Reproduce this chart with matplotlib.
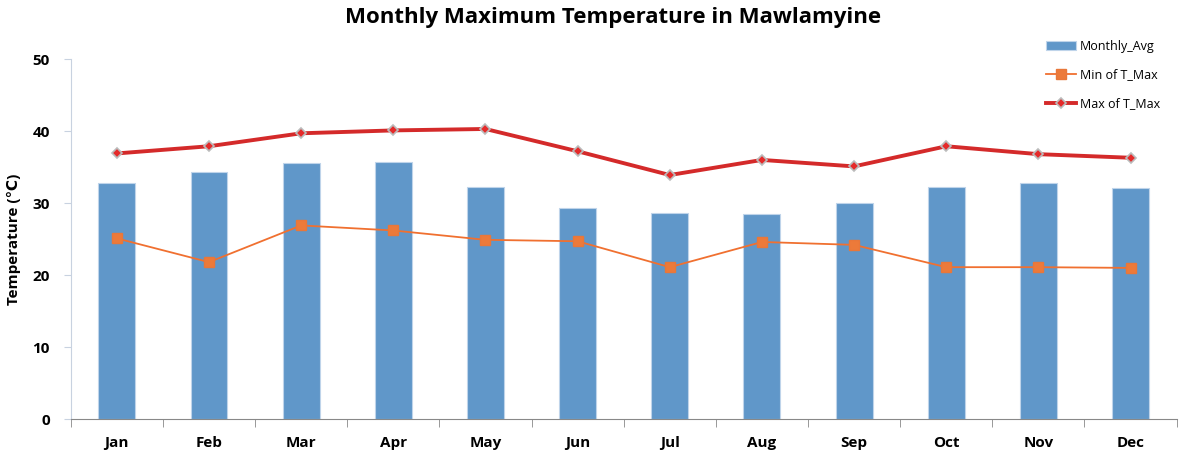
import numpy as np
import matplotlib.pyplot as plt

# data
months = ['Jan', 'Feb', 'Mar', 'Apr', 'May', 'Jun', 'Jul', 'Aug', 'Sep', 'Oct', 'Nov', 'Dec']
monthly_avg = [32.8, 34.3, 35.6, 35.7, 32.2, 29.3, 28.6, 28.5, 30.0, 32.2, 32.8, 32.1]
min_tmax = [25.1, 21.8, 26.9, 26.2, 24.9, 24.7, 21.1, 24.6, 24.2, 21.1, 21.1, 21.0]
max_tmax = [36.9, 37.9, 39.7, 40.1, 40.3, 37.2, 33.9, 36.0, 35.1, 37.9, 36.8, 36.3]

plt.rcParams['font.family'] = ['Open Sans', 'DejaVu Sans']

fig = plt.figure(figsize=(11.79, 4.55), dpi=100)
ax = fig.add_axes([0.060, 0.079, 0.938, 0.791])

x = np.arange(len(months))
bars = ax.bar(x, monthly_avg, width=0.4, color='#6097C9', edgecolor='#BFD4EA',
              linewidth=0.8, label='Monthly_Avg', zorder=2)
ln_min, = ax.plot(x, min_tmax, color='#F07030', linewidth=1.3, marker='s', markersize=7,
                  markerfacecolor='#EC7A3A', markeredgecolor='#E8773A',
                  label='Min of T_Max', zorder=3)
ln_max, = ax.plot(x, max_tmax, color='#D42A2A', linewidth=2.8, marker='D', markersize=5.5,
                  markerfacecolor='#E52A2A', markeredgecolor='#BBBBBB', markeredgewidth=1.2,
                  label='Max of T_Max', zorder=4)

ax.set_xlim(-0.5, len(months) - 0.5)
ax.set_ylim(0, 50)
ax.set_yticks(range(0, 51, 10))
ax.set_xticks(x)
ax.set_xticklabels(months, fontsize=11, fontweight='bold')
ax.set_xticks(np.arange(-0.5, len(months), 1.0), minor=True)
ax.tick_params(axis='x', which='major', length=0, pad=12)
ax.tick_params(axis='x', which='minor', length=6, color='#888888', direction='out')
ax.tick_params(axis='y', labelsize=11, length=5, color='#C8D2E0', pad=10)
for lbl in ax.get_yticklabels():
    lbl.set_fontweight('bold')

for side in ['top', 'right']:
    ax.spines[side].set_visible(False)
ax.spines['left'].set_color('#C8D2E0')
ax.spines['bottom'].set_color('#888888')

ax.set_ylabel('Temperature (\u2103)', fontsize=11, fontweight='bold', labelpad=8)
fig.suptitle('Monthly Maximum Temperature in Mawlamyine', fontsize=16, fontweight='bold',
             x=0.52, y=0.985)

ax.legend(handles=[bars, ln_min, ln_max], loc='upper right', bbox_to_anchor=(0.995, 1.085),
          frameon=False, fontsize=9, handlelength=2.4, labelspacing=1.25, handletextpad=0.3)

fig.savefig('out.png', dpi=100)
